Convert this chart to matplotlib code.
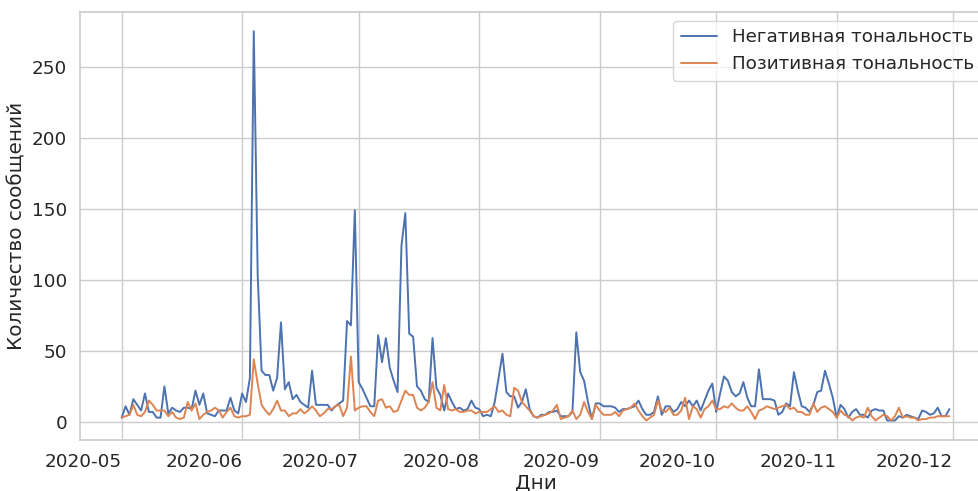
import pandas as pd
import matplotlib
matplotlib.use("Agg")
import matplotlib.pyplot as plt
import matplotlib.dates as mdates
import seaborn as sns

# daily message counts, 2020-05-01 .. 2020-11-30
start_date = "2020-05-01"
negative = [
    3, 11, 5, 16, 12, 8, 20, 7, 7, 3, 3, 25, 6, 10, 8, 7, 10, 10, 9, 22,
    12, 20, 6, 5, 4, 8, 8, 8, 17, 8, 6, 20, 14, 31, 275, 104, 36, 33, 33, 22,
    31, 70, 23, 28, 16, 19, 14, 12, 10, 36, 12, 12, 12, 12, 8, 11, 13, 15, 71, 68,
    149, 28, 23, 17, 11, 11, 61, 42, 59, 38, 29, 21, 124, 147, 62, 60, 25, 22, 16, 14,
    59, 24, 19, 8, 20, 14, 9, 10, 8, 9, 15, 10, 9, 4, 5, 4, 14, 31, 48, 21,
    18, 18, 10, 14, 23, 9, 4, 3, 5, 5, 7, 7, 8, 4, 4, 4, 7, 63, 35, 29,
    14, 2, 13, 13, 11, 11, 11, 10, 7, 9, 9, 10, 11, 15, 9, 5, 5, 7, 18, 5,
    11, 11, 7, 9, 14, 11, 15, 11, 15, 8, 15, 22, 27, 7, 20, 32, 29, 21, 18, 20,
    28, 17, 11, 11, 37, 16, 16, 16, 15, 5, 7, 13, 11, 35, 22, 11, 10, 7, 12, 21,
    22, 36, 27, 17, 3, 12, 9, 3, 7, 9, 5, 5, 3, 8, 9, 8, 8, 1, 1, 1,
    4, 3, 5, 4, 3, 2, 8, 7, 5, 6, 10, 4, 4, 9,
]
positive = [
    3, 4, 5, 12, 5, 4, 7, 15, 12, 8, 8, 8, 4, 7, 3, 2, 3, 14, 8, 13,
    2, 5, 7, 8, 10, 8, 3, 7, 10, 4, 3, 4, 4, 5, 44, 27, 12, 8, 5, 9,
    15, 8, 8, 4, 6, 6, 9, 6, 8, 11, 8, 4, 6, 9, 9, 11, 12, 4, 10, 46,
    8, 10, 11, 11, 7, 4, 15, 16, 10, 11, 7, 8, 15, 22, 19, 19, 10, 8, 10, 14,
    28, 10, 8, 26, 9, 8, 9, 7, 7, 8, 8, 6, 7, 7, 7, 9, 11, 7, 8, 5,
    4, 24, 22, 14, 11, 8, 4, 3, 4, 5, 6, 8, 12, 2, 3, 4, 8, 2, 5, 14,
    7, 2, 12, 8, 5, 5, 5, 7, 4, 8, 9, 10, 13, 8, 4, 1, 3, 5, 15, 8,
    7, 10, 5, 5, 8, 17, 2, 11, 9, 3, 9, 11, 15, 9, 9, 11, 10, 13, 10, 8,
    8, 11, 7, 2, 8, 9, 11, 10, 9, 10, 11, 12, 9, 10, 7, 7, 5, 5, 13, 7,
    10, 11, 9, 7, 3, 8, 5, 4, 1, 3, 4, 3, 10, 4, 1, 3, 5, 4, 1, 4,
    10, 3, 4, 3, 3, 1, 2, 2, 3, 3, 4, 4, 4, 4,
]
labels = ["Негативная тональность", "Позитивная тональность"]

days = pd.date_range(start_date, periods=len(negative), freq="D")

sns.set_theme(style="whitegrid", font_scale=1.2)
plt.rcParams['font.family'] = ['DejaVu Sans']

fig = plt.figure(figsize=(9.79, 4.91), dpi=100)
ax = fig.add_axes([0.082, 0.104, 0.93, 0.872])

ax.plot(days, negative, color="#4C72B0", linewidth=1.4, label=labels[0])
ax.plot(days, positive, color="#DD8452", linewidth=1.4, label=labels[1])

ax.xaxis.set_major_locator(mdates.MonthLocator())
ax.xaxis.set_major_formatter(mdates.DateFormatter("%Y-%m"))
# date labels end at their tick, as after autofmt_xdate with rotation reset
plt.setp(ax.get_xticklabels(), rotation=0, ha="right")

ax.set_xlabel("Дни", labelpad=2)
ax.set_ylabel("Количество сообщений")
ax.legend(loc="upper right")

fig.savefig("out.png", dpi=100)
